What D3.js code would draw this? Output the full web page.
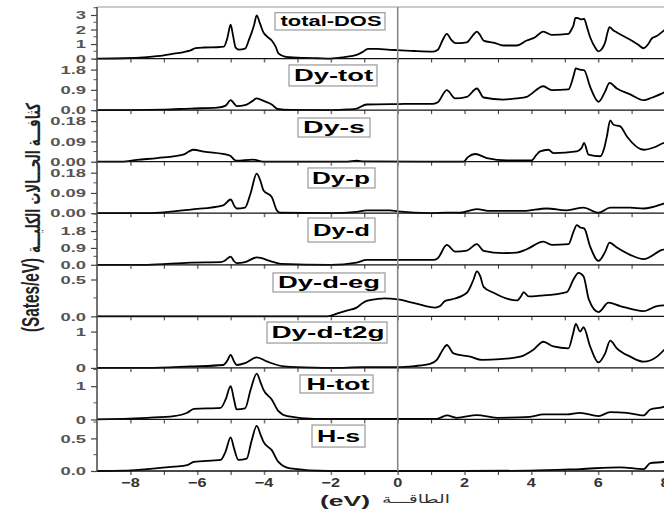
<!DOCTYPE html>
<html><head><meta charset="utf-8">
<script src="https://cdn.jsdelivr.net/npm/d3@7"></script>
<style>
body{margin:0;background:#fff}
svg{display:block;font-family:"Liberation Sans",Arial,sans-serif}
</style>
</head><body>
<svg id="chart" width="664" height="514"></svg>
<script>
// ---------------- DATA ----------------
const energyDomain = [-9, 8];
const xTickValues = [-8, -6, -4, -2, 0, 2, 4, 6, 8];
const xMinorTickValues = [-7, -5, -3, -1, 1, 3, 5, 7];

const panelNames = ["total-DOS", "Dy-tot", "Dy-s", "Dy-p", "Dy-d", "Dy-d-eg", "Dy-d-t2g", "H-tot", "H-s"];
const panelYMax = [3.55, 2.29, 0.229, 0.229, 2.75, 0.70, 1.42, 1.55, 0.79];
const panelYTicks = [[0, 1, 2, 3], [0.0, 0.9, 1.8], [0.00, 0.09, 0.18], [0.00, 0.09, 0.18], [0.0, 0.9, 1.8], [0.0, 0.5], [0, 1], [0, 1], [0.0, 0.5]];
const panelYTickLabels = [["0", "1", "2", "3"], ["0.0", "0.9", "1.8"], ["0.00", "0.09", "0.18"], ["0.00", "0.09", "0.18"], ["0.0", "0.9", "1.8"], ["0.0", "0.5"], ["0", "1"], ["0", "1"], ["0.0", "0.5"]];
const panelYMinorStep = [0.5, 0.45, 0.045, 0.045, 0.45, 0.25, 0.5, 0.5, 0.25];

const dosTotal = [[-9,0],[-8.2,0.02],[-7.5,0.1],[-7,0.22],[-6.7,0.34],[-6.4,0.45],[-6.2,0.56],[-6.05,0.72],[-5.8,0.76],[-5.4,0.78],[-5.2,0.82],[-5.1,1.4],[-5.0,2.34],[-4.93,1.6],[-4.85,0.75],[-4.75,0.62],[-4.57,0.68],[-4.45,1.3],[-4.3,2.3],[-4.22,2.97],[-4.12,2.4],[-4.02,1.8],[-3.9,1.5],[-3.77,1.24],[-3.65,0.8],[-3.57,0.35],[-3.4,0.15],[-3.22,0.09],[-2.8,0.04],[-2.4,0.02],[-2.0,0.0],[-1.6,0.1],[-1.23,0.25],[-1.05,0.45],[-0.89,0.67],[-0.6,0.66],[-0.23,0.6],[0,0.58],[0.5,0.52],[1.06,0.48],[1.2,0.6],[1.35,1.3],[1.47,1.7],[1.6,1.3],[1.72,1.06],[2.07,1.12],[2.25,1.6],[2.37,1.86],[2.47,1.6],[2.57,1.24],[2.9,1.08],[3.16,0.9],[3.56,0.9],[3.86,1.24],[4.1,1.45],[4.36,1.86],[4.61,1.63],[5.11,1.7],[5.2,2.0],[5.26,2.28],[5.32,2.8],[5.4,2.78],[5.48,2.7],[5.58,2.73],[5.66,2.2],[5.76,1.47],[5.9,0.8],[6.01,0.5],[6.12,0.7],[6.21,1.12],[6.28,1.8],[6.34,2.16],[6.45,1.95],[6.56,1.8],[6.96,1.29],[7.2,0.95],[7.36,0.71],[7.5,1.0],[7.61,1.4],[7.75,1.55],[8,2.0]];
const dosDyTot = [[-9,0],[-8,0],[-7,0.02],[-6.2,0.07],[-5.4,0.11],[-5.15,0.2],[-5.0,0.44],[-4.9,0.3],[-4.82,0.18],[-4.57,0.22],[-4.35,0.4],[-4.22,0.52],[-4.0,0.4],[-3.77,0.25],[-3.6,0.05],[-3.2,0.01],[-2,0],[-1.5,0.03],[-1.23,0.07],[-0.93,0.25],[0,0.27],[1.06,0.28],[1.2,0.35],[1.47,0.89],[1.72,0.52],[2.07,0.59],[2.37,0.96],[2.57,0.56],[3.16,0.47],[3.56,0.52],[3.86,0.59],[4.36,1.06],[4.61,0.89],[5.11,0.92],[5.26,1.5],[5.33,1.85],[5.45,1.8],[5.58,1.77],[5.76,1.03],[6.01,0.37],[6.2,0.8],[6.34,1.21],[6.56,0.96],[6.96,0.7],[7.36,0.44],[7.6,0.55],[7.91,0.74],[8,0.8]];
const dosDyS = [[-9,0],[-8.26,0],[-7.8,0.008],[-7.2,0.016],[-6.42,0.031],[-6.25,0.045],[-6.12,0.053],[-5.8,0.045],[-5.02,0.027],[-4.9,0.01],[-4.82,0.004],[-4.33,0.009],[-4.03,0],[-1.5,0],[-1.23,0.004],[-1.0,0.001],[1.97,0],[2.1,0.02],[2.32,0.034],[2.67,0.016],[3.27,0.006],[4.01,0.006],[4.15,0.03],[4.26,0.046],[4.51,0.053],[4.66,0.038],[5.36,0.046],[5.5,0.06],[5.58,0.083],[5.71,0.031],[6.06,0.024],[6.18,0.06],[6.26,0.112],[6.36,0.183],[6.46,0.164],[6.66,0.157],[6.86,0.112],[7.36,0.053],[7.66,0.063],[7.96,0.083],[8,0.085]];
const dosDyP = [[-9,0],[-7.7,0],[-7,0.004],[-6.2,0.016],[-5.22,0.035],[-5.0,0.061],[-4.88,0.03],[-4.82,0.021],[-4.57,0.025],[-4.4,0.09],[-4.22,0.176],[-4.1,0.14],[-4.02,0.102],[-3.77,0.072],[-3.62,0.013],[-3.52,0.002],[-2,0],[-1.23,0.006],[-0.93,0.013],[-0.23,0.013],[0,0.008],[0.97,0],[1.47,0.003],[1.87,0.002],[2.37,0.018],[2.77,0.01],[3.76,0.01],[4.46,0.021],[5.06,0.013],[5.56,0.025],[6.01,0.002],[6.36,0.025],[6.96,0.025],[7.36,0.021],[7.96,0.043],[8,0.045]];
const dosDyD = [[-9,0],[-7.5,0],[-6.2,0.12],[-5.3,0.14],[-5.15,0.25],[-5.0,0.44],[-4.9,0.2],[-4.82,0.09],[-4.57,0.14],[-4.22,0.39],[-3.77,0.17],[-3.5,0.05],[-2,0],[-1.23,0.12],[-0.93,0.26],[0,0.26],[1.06,0.26],[1.2,0.35],[1.47,1.06],[1.72,0.7],[2.07,0.76],[2.37,1.1],[2.57,0.74],[3.16,0.62],[3.56,0.65],[3.86,0.83],[4.36,1.23],[4.61,1.06],[5.11,1.1],[5.26,1.76],[5.36,2.12],[5.45,2.0],[5.58,1.94],[5.76,0.97],[6.01,0.21],[6.21,0.7],[6.34,1.18],[6.56,0.92],[6.96,0.53],[7.36,0.3],[7.91,0.79],[8,0.84]];
const dosDyDeg = [[-9,0],[-2.1,0],[-1.8,0.04],[-1.5,0.08],[-1.23,0.118],[-1.05,0.18],[-0.93,0.21],[-0.63,0.235],[-0.4,0.245],[0,0.23],[0.5,0.18],[1.12,0.118],[1.27,0.14],[1.42,0.21],[1.62,0.23],[2.07,0.32],[2.27,0.5],[2.37,0.61],[2.47,0.545],[2.57,0.40],[2.87,0.32],[3.27,0.24],[3.57,0.216],[3.7,0.28],[3.77,0.33],[3.92,0.27],[4.26,0.28],[5.06,0.33],[5.26,0.5],[5.41,0.59],[5.56,0.545],[5.72,0.23],[6.01,0.058],[6.31,0.185],[6.66,0.14],[7.36,0.07],[7.76,0.14],[8,0.15]];
const dosDyDt2g = [[-9,0],[-7.5,0],[-6.2,0.04],[-5.22,0.08],[-5.1,0.2],[-5.0,0.36],[-4.9,0.18],[-4.82,0.08],[-4.57,0.13],[-4.22,0.29],[-3.9,0.17],[-3.4,0.04],[-2.5,0.005],[-2,0],[-1,0.02],[0,0.02],[0.5,0.05],[0.97,0.11],[1.17,0.22],[1.35,0.5],[1.47,0.63],[1.67,0.4],[2.17,0.31],[2.52,0.22],[3.07,0.24],[3.67,0.31],[4.06,0.5],[4.36,0.72],[4.66,0.59],[5.11,0.54],[5.24,0.91],[5.33,1.21],[5.46,1.0],[5.56,1.12],[5.76,0.59],[6.01,0.15],[6.21,0.4],[6.36,0.75],[6.56,0.54],[6.96,0.31],[7.36,0.17],[7.76,0.31],[8,0.52]];
const dosHTot = [[-9,0],[-8.2,0.02],[-7.5,0.05],[-6.7,0.1],[-6.3,0.2],[-6.1,0.32],[-5.3,0.35],[-5.15,0.6],[-5.0,1.0],[-4.9,0.6],[-4.82,0.3],[-4.57,0.33],[-4.4,0.9],[-4.22,1.38],[-4.1,1.1],[-4.02,0.9],[-3.77,0.6],[-3.57,0.25],[-3.3,0.1],[-2.5,0.02],[-1,0.02],[1.17,0.02],[1.47,0.12],[1.77,0.05],[2.37,0.13],[2.97,0.05],[3.96,0.08],[4.36,0.15],[5.06,0.15],[5.46,0.2],[6.01,0.1],[6.36,0.22],[6.86,0.2],[7.36,0.12],[7.56,0.3],[7.96,0.38],[8,0.4]];
const dosHS = [[-9,0],[-8.2,0.005],[-7.5,0.03],[-6.7,0.066],[-6.3,0.09],[-6.1,0.14],[-5.3,0.17],[-5.15,0.3],[-5.0,0.515],[-4.9,0.35],[-4.77,0.17],[-4.52,0.19],[-4.38,0.45],[-4.22,0.69],[-4.1,0.55],[-4.02,0.45],[-3.77,0.32],[-3.57,0.14],[-3.22,0.04],[-2.07,0],[2,0],[3.96,0.005],[5.46,0.03],[6.66,0.057],[7.36,0.03],[7.56,0.12],[7.96,0.14],[8,0.145]];

const panelSeries = [dosTotal, dosDyTot, dosDyS, dosDyP, dosDyD, dosDyDeg, dosDyDt2g, dosHTot, dosHS];

const yLabelLatin = "(Sates/eV)";
const yLabelArabic = "كثافـــة الحـــالات الكليـــة";
const xLabelLatin = "(eV)";
const xLabelArabic = "الطاقـــة";

// ---------------- LAYOUT ----------------
const W = 664, H = 514;
const plotLeft = 97, plotRight = 665, plotTop = 7, plotBottom = 471;
const ph = (plotBottom - plotTop) / 9;
const labelLayout = [
  {x0:275, x1:385, dy:5.7, h:17.3, cx:331, tl:101, fs:14},
  {x0:289, x1:377, dy:6.4, h:21, cx:333.5, tl:79, fs:16},
  {x0:298, x1:370, dy:7.9, h:19, cx:334, tl:62, fs:16},
  {x0:308, x1:375, dy:6.3, h:20, cx:341, tl:58, fs:16},
  {x0:308, x1:375, dy:4.8, h:24, cx:341.5, tl:57, fs:16},
  {x0:273, x1:385, dy:8.2, h:19, cx:329, tl:102, fs:16},
  {x0:267, x1:387, dy:5.7, h:21, cx:328, tl:113, fs:16},
  {x0:300, x1:373, dy:7.1, h:18, cx:338, tl:63, fs:16},
  {x0:312, x1:365, dy:5.6, h:22, cx:338.5, tl:43, fs:16}
];

const svg = d3.select("#chart");
svg.append("rect").attr("width", W).attr("height", H).attr("fill", "#fff");

const x = d3.scaleLinear().domain(energyDomain).range([plotLeft, plotRight]);

function stretch(sel, k) {
  sel.each(function () {
    const L = this.getComputedTextLength();
    d3.select(this).attr("textLength", L * k).attr("lengthAdjust", "spacingAndGlyphs");
  });
}

svg.append("clipPath").attr("id", "plotclip").append("rect")
  .attr("x", plotLeft).attr("y", plotTop - 2).attr("width", plotRight - plotLeft).attr("height", plotBottom - plotTop + 4);

svg.append("line").attr("x1", plotLeft).attr("x2", W).attr("y1", plotTop).attr("y2", plotTop)
  .attr("stroke", "#999").attr("stroke-width", 1.2);

panelNames.forEach((name, i) => {
  const pTop = plotTop + i * ph, pBase = plotTop + (i + 1) * ph;
  const y = d3.scaleLinear().domain([0, panelYMax[i]]).range([pBase, pTop]);

  const line = d3.line().x(d => x(d[0])).y(d => y(d[1])).curve(d3.curveMonotoneX);
  svg.append("path").datum(panelSeries[i]).attr("d", line)
    .attr("fill", "none").attr("stroke", "#000").attr("stroke-width", 1.8)
    .attr("stroke-linejoin", "round").attr("clip-path", "url(#plotclip)");

  const yAxis = d3.axisLeft(y).tickValues(panelYTicks[i])
    .tickFormat((d, k) => panelYTickLabels[i][k]).tickSize(6).tickPadding(5);
  const gy = svg.append("g").attr("transform", `translate(${plotLeft},0)`).call(yAxis);
  gy.select(".domain").remove();
  gy.selectAll(".tick line").attr("stroke", "#444").attr("stroke-width", 1.2);
  gy.selectAll(".tick text").attr("font-size", 11.5).attr("font-weight", "bold")
    .attr("fill", "#555").attr("font-family", "Liberation Sans, Arial, sans-serif")
    .call(stretch, 1.6);

  const minor = d3.range(panelYMinorStep[i], panelYMax[i], panelYMinorStep[i])
    .filter(v => !panelYTicks[i].some(t => Math.abs(t - v) < 1e-6));
  svg.append("g").selectAll("line").data(minor).join("line")
    .attr("x1", plotLeft - 3.5).attr("x2", plotLeft).attr("y1", d => y(d)).attr("y2", d => y(d))
    .attr("stroke", "#555").attr("stroke-width", 1);

  const xAxis = d3.axisBottom(x).tickValues(xTickValues.concat(xMinorTickValues)).tickSize(4).tickFormat("");
  const gx = svg.append("g").attr("transform", `translate(0,${pBase})`).call(xAxis);
  gx.select(".domain").remove();
  gx.selectAll(".tick line").attr("stroke", d => (d % 2 === 0 ? "#777" : "#333"))
    .attr("stroke-width", d => (d % 2 === 0 ? 1.6 : 1));
  svg.append("line").attr("x1", plotLeft).attr("x2", W).attr("y1", pBase).attr("y2", pBase)
    .attr("stroke", "#111").attr("stroke-width", 1.3);

  const L = labelLayout[i];
  svg.append("rect").attr("x", L.x0).attr("y", pTop + L.dy).attr("width", L.x1 - L.x0).attr("height", L.h)
    .attr("fill", "#fff").attr("stroke", "#999").attr("stroke-width", 1.2);
  svg.append("text").attr("x", L.cx).attr("y", pTop + L.dy + L.h / 2 + L.fs * 0.36)
    .attr("text-anchor", "middle").attr("font-size", L.fs).attr("font-weight", "bold")
    .attr("fill", "#000").attr("textLength", L.tl).attr("lengthAdjust", "spacingAndGlyphs")
    .text(name);
});

svg.append("line").attr("x1", x(0)).attr("x2", x(0)).attr("y1", plotTop).attr("y2", plotBottom)
  .attr("stroke", "#888").attr("stroke-width", 1.6);

svg.append("line").attr("x1", plotLeft).attr("x2", plotLeft).attr("y1", plotTop).attr("y2", plotBottom + 0.5)
  .attr("stroke", "#444").attr("stroke-width", 1.5);

svg.append("g").selectAll("text").data(xTickValues).join("text")
  .attr("x", d => x(d)).attr("y", 487).attr("text-anchor", "middle")
  .attr("font-size", 13).attr("font-weight", "bold").attr("fill", "#333")
  .text(d => d3.format("d")(d)).call(stretch, 1.25);

svg.append("text").attr("transform", "translate(39,295) rotate(-90) scale(1,1.55)")
  .attr("text-anchor", "middle").attr("font-size", 15).attr("font-weight", "bold").attr("fill", "#222")
  .attr("textLength", 74).attr("lengthAdjust", "spacingAndGlyphs").text(yLabelLatin);
svg.append("text").attr("transform", "translate(40,178) rotate(-90) scale(1,1.4)")
  .attr("text-anchor", "middle").attr("font-size", 14).attr("font-weight", "bold").attr("fill", "#222")
  .attr("font-family", "DejaVu Sans, Noto Sans, sans-serif")
  .attr("textLength", 150).attr("lengthAdjust", "spacingAndGlyphs").text(yLabelArabic);

svg.append("text").attr("x", 345).attr("y", 506).attr("text-anchor", "middle")
  .attr("font-size", 15).attr("font-weight", "bold").attr("fill", "#222")
  .attr("textLength", 50).attr("lengthAdjust", "spacingAndGlyphs").text(xLabelLatin);
svg.append("text").attr("x", 416).attr("y", 503).attr("text-anchor", "middle")
  .attr("font-size", 12).attr("fill", "#333")
  .attr("font-family", "DejaVu Sans, Noto Sans, sans-serif")
  .attr("textLength", 68).attr("lengthAdjust", "spacingAndGlyphs").text(xLabelArabic);
</script>
</body></html>
